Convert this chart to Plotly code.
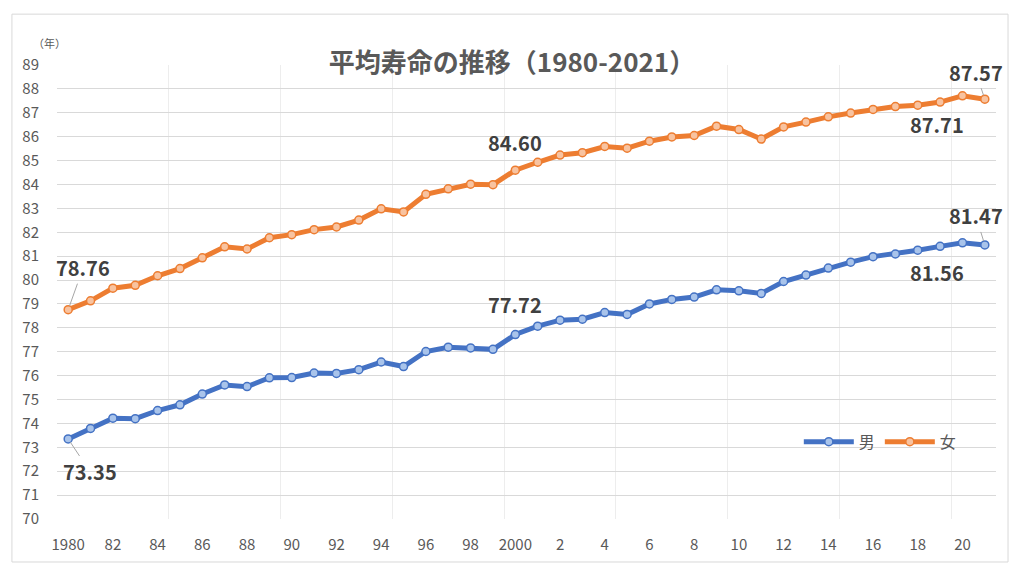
import plotly.graph_objects as go

years = list(range(1980, 2022))
male = [73.35, 73.79, 74.22, 74.20, 74.54, 74.78, 75.23, 75.61, 75.54, 75.91,
        75.92, 76.11, 76.09, 76.25, 76.57, 76.38, 77.01, 77.19, 77.16, 77.10,
        77.72, 78.07, 78.32, 78.36, 78.64, 78.56, 79.00, 79.19, 79.29, 79.59,
        79.55, 79.44, 79.94, 80.21, 80.50, 80.75, 80.98, 81.09, 81.25, 81.41,
        81.56, 81.47]
female = [78.76, 79.13, 79.66, 79.78, 80.18, 80.48, 80.93, 81.39, 81.30, 81.77,
          81.90, 82.11, 82.22, 82.51, 82.98, 82.85, 83.59, 83.82, 84.01, 83.99,
          84.60, 84.93, 85.23, 85.33, 85.59, 85.52, 85.81, 85.99, 86.05, 86.44,
          86.30, 85.90, 86.41, 86.61, 86.83, 86.99, 87.14, 87.26, 87.32, 87.45,
          87.71, 87.57]
tick_years = list(range(1980, 2022, 2))
tick_text = ["1980" if y == 1980 else ("2000" if y == 2000 else str(y % 100)) for y in tick_years]

BLUE = "#4472C4"
ORANGE = "#ED7D31"
FONT = "Noto Sans CJK JP"

fig = go.Figure()
fig.add_trace(go.Scatter(x=years, y=male, mode="lines+markers", name="男",
                         line=dict(color=BLUE, width=5),
                         marker=dict(size=8, color="#A9C4EB", line=dict(color=BLUE, width=1.5))))
fig.add_trace(go.Scatter(x=years, y=female, mode="lines+markers", name="女",
                         line=dict(color=ORANGE, width=5),
                         marker=dict(size=8, color="#F8C3A0", line=dict(color=ORANGE, width=1.5))))

lab_font = dict(family=FONT, size=20, color="#404040", weight="bold")

def idx(y):
    return years.index(y)

anns = []
# labels without leader lines
for yr, series, xs, ys in [(2000, female, 0, 28), (2000, male, 0, 30),
                           (2020, female, -25, -29), (2020, male, -25, -30)]:
    anns.append(dict(x=yr, y=series[idx(yr)], text=f"{series[idx(yr)]:.2f}", showarrow=False,
                     xshift=xs, yshift=ys, font=lab_font))
# labels with leader lines
for yr, series, ax, ay in [(1980, female, 15, -42), (1980, male, 22, 33),
                           (2021, female, -9, -27), (2021, male, -9, -29)]:
    anns.append(dict(x=yr, y=series[idx(yr)], text=f"{series[idx(yr)]:.2f}", showarrow=True,
                     arrowhead=0, arrowwidth=1, arrowcolor="#A6A6A6", ax=ax, ay=ay,
                     standoff=4, font=lab_font))
anns.append(dict(x=-0.008, y=1.048, xref="paper", yref="paper", text="（年）", showarrow=False,
                 font=dict(family=FONT, size=11, color="#595959"), xanchor="center", yanchor="middle"))

fig.update_layout(
    width=1024, height=576,
    margin=dict(l=57, r=28, t=65, b=57),
    paper_bgcolor="white", plot_bgcolor="white",
    title=dict(text="平均寿命の推移（1980-2021）", x=0.5, xanchor="center", y=0.89, yanchor="middle",
               font=dict(family=FONT, size=26, color="#595959", weight="bold")),
    xaxis=dict(range=[1979.5, 2021.5], tickvals=tick_years, ticktext=tick_text,
               showgrid=False, zeroline=False, showline=False,
               ticks="outside", ticklen=12, tickcolor="rgba(0,0,0,0)",
               tickfont=dict(family=FONT, size=15, color="#595959"),
               minor=dict(tickmode="linear", tick0=1979.5, dtick=5, showgrid=True,
                          gridcolor="#EDEDED", gridwidth=1, ticks="")),
    yaxis=dict(range=[70, 89], dtick=1, showgrid=True, gridcolor="#D9D9D9", gridwidth=1,
               zeroline=False, showline=False,
               ticks="outside", ticklen=14, tickcolor="rgba(0,0,0,0)",
               tickfont=dict(family=FONT, size=15, color="#595959")),
    legend=dict(orientation="h", x=0.79, y=0.17, xanchor="left", yanchor="middle",
                bgcolor="rgba(0,0,0,0)", font=dict(family=FONT, size=16, color="#595959"),
                itemwidth=50, tracegroupgap=0),
    annotations=anns,
    shapes=[dict(type="rect", xref="paper", yref="paper", x0=-0.048, x1=1.0128, y0=-0.0947, y1=1.112,
                 line=dict(color="#D9D9D9", width=1), fillcolor="rgba(0,0,0,0)", layer="below")],
    showlegend=True,
)

fig.write_html("out.html")
